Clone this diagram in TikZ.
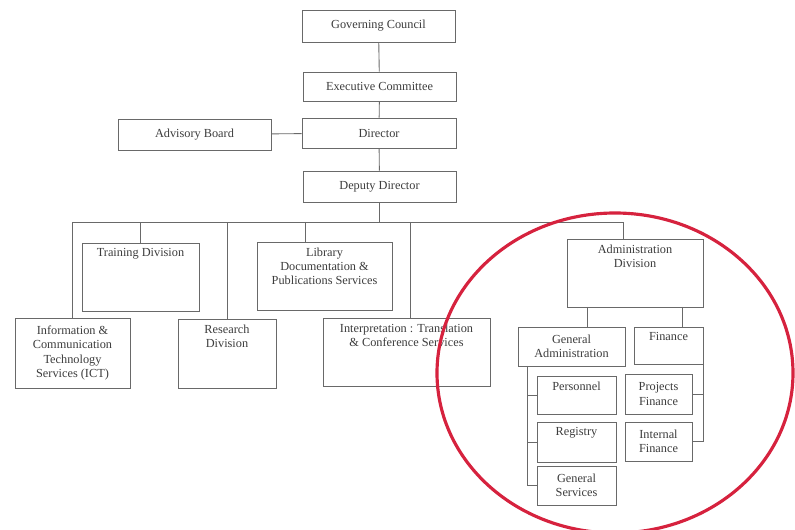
\documentclass[tikz,border=0pt]{standalone}
\usepackage{fontspec}
\setmainfont{Liberation Serif}
\usepackage{tikz}

\definecolor{linegray}{RGB}{105,105,105}
\definecolor{textgray}{RGB}{60,60,60}
\definecolor{ringred}{RGB}{214,34,62}

\begin{document}
\begin{tikzpicture}[x=0.02cm,y=-0.02cm,
  box node/.style 2 args={draw=linegray,line width=0.5pt,rectangle,inner sep=1pt,
    minimum width=#1*0.02cm,minimum height=#2*0.02cm,align=center,
    text=textgray,font=\fontsize{7}{8}\selectfont},
  top text/.style={label={[top label]north:{#1}}},
  top label/.style={anchor=north,align=center,inner sep=3.2pt,
    text=textgray,font=\fontsize{7}{8}\selectfont},
  link/.style={draw=linegray,line width=0.5pt}]

\useasboundingbox (0,0) rectangle (795,530);

% top of the chart
\node[box node={153}{32}] (gc) at (378.5,26) {Governing Council};
\node[box node={153}{29}] (ec) at (379.5,86.5) {Executive Committee};
\node[box node={154}{30}] (dir) at (379,133) {Director};
\node[box node={153}{31}] (adv) at (194.5,134.5) {Advisory Board};
\node[box node={153}{31}] (dep) at (379.5,186.5) {Deputy Director};

% divisions
\node[box node={117}{68},top text={Training Division}] (trn) at (140.5,277) {};
\node[box node={135}{68},top text={Library\\Documentation \&\\Publications Services}] (lib) at (324.5,276) {};
\node[box node={115}{70}] (ict) at (72.5,353) {Information \&\\Communication\\Technology\\Services (ICT)};
\node[box node={98}{69},top text={Research\\Division}] (res) at (227,353.5) {};
\node[box node={167}{68},top text={Interpretation : Translation\\\& Conference Services}] (int) at (406.5,352) {};
\node[box node={136}{68},top text={Administration\\Division}] (adm) at (635,273) {};

% administration
\node[box node={107}{39}] (gen) at (571.5,346.5) {General\\Administration};
\node[box node={69}{37},top text={Finance}] (fin) at (668.5,345.5) {};
\node[box node={79}{38},top text={Personnel}] (per) at (576.5,395) {};
\node[box node={79}{40},top text={Registry}] (reg) at (576.5,442) {};
\node[box node={79}{39}] (gsv) at (576.5,485.5) {General\\Services};
\node[box node={67}{40}] (pfi) at (658.5,394) {Projects\\Finance};
\node[box node={67}{39}] (ifi) at (658.5,441.5) {Internal\\Finance};

\coordinate (busW) at (72,222);
\coordinate (busE) at (623,222);
\coordinate (libD) at (305,222);
\coordinate (intD) at (410,222);
\coordinate (genD) at (587,307);
\coordinate (finD) at (682,307);
\coordinate (gaL) at (527,366);

\path[link] (gc) edge (ec)
(ec) edge (dir)
(dir) edge (dep)
(adv) edge (dir);

\draw[link] (dep.south) -- (dep.south |- busW);
\draw[link] (ict.north) |- (busE) -- (busE |- adm.north);
\draw[link] (trn.north) -- (trn.north |- busW);
\draw[link] (res.north) -- (res.north |- busW);
\draw[link] (libD) -- (libD |- lib.north);
\draw[link] (intD) -- (intD |- int.north);

\draw[link] (genD) -- (genD |- gen.north);
\draw[link] (finD) -- (finD |- fin.north);
\draw[link] (gaL) |- (gsv.west);
\draw[link] (per.west) -- (per.west -| gaL);
\draw[link] (reg.west) -- (reg.west -| gaL);
\draw[link] (fin.south east) |- (ifi.east);
\draw[link] (pfi.east) -- (pfi.east -| fin.south east);

\draw[ringred,line width=1.8pt] (615,373) ellipse [x radius=178,y radius=160];

\end{tikzpicture}
\end{document}
